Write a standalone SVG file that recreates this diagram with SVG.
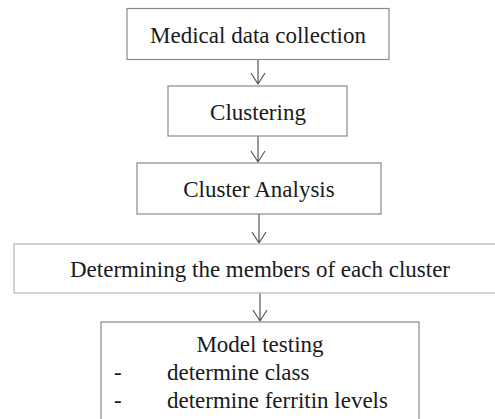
<svg xmlns="http://www.w3.org/2000/svg" width="495" height="419" viewBox="0 0 495 419">
<style>
.box{fill:#fff;stroke:#8a8a8a;stroke-width:1.2}
.lt{fill:#fff;stroke:#c4c4c4;stroke-width:1.5}
.t{font-family:"Liberation Serif","Times New Roman",serif;font-size:23px;fill:#1a1a1a}
.c{text-anchor:middle}
.ln{fill:none;stroke:#555;stroke-width:1.2}
</style>
<rect width="495" height="419" fill="#fff"/>
<g id="connectors">
<path class="ln" d="M258 59V84M251 73L258 84L265 73"/>
<path class="ln" d="M258 136V162M251 151L258 162L265 151"/>
<path class="ln" d="M259 214V243M252 232L259 243L266 232"/>
<path class="ln" d="M260 293V321M253 310L260 321L267 310"/>
</g>
<g id="n1"><rect class="box" x="127" y="8.5" width="262" height="51"/><text class="t c" x="258" y="43">Medical data collection</text></g>
<g id="n2"><rect class="box" x="168" y="86" width="179" height="50"/><text class="t c" x="258" y="120">Clustering</text></g>
<g id="n3"><rect class="box" x="137" y="163" width="244" height="51"/><text class="t c" x="259" y="197">Cluster Analysis</text></g>
<g id="n4"><rect class="lt" x="14" y="244" width="490" height="49"/><text class="t c" x="260" y="277">Determining the members of each cluster</text></g>
<g id="n5"><rect class="box" x="101" y="322" width="318" height="105"/>
<text class="t c" x="260" y="352">Model testing</text>
<text class="t" x="114" y="380">-</text><text class="t" x="167" y="380">determine class</text>
<text class="t" x="114" y="408">-</text><text class="t" x="167" y="408">determine ferritin levels</text>
</g>
</svg>
